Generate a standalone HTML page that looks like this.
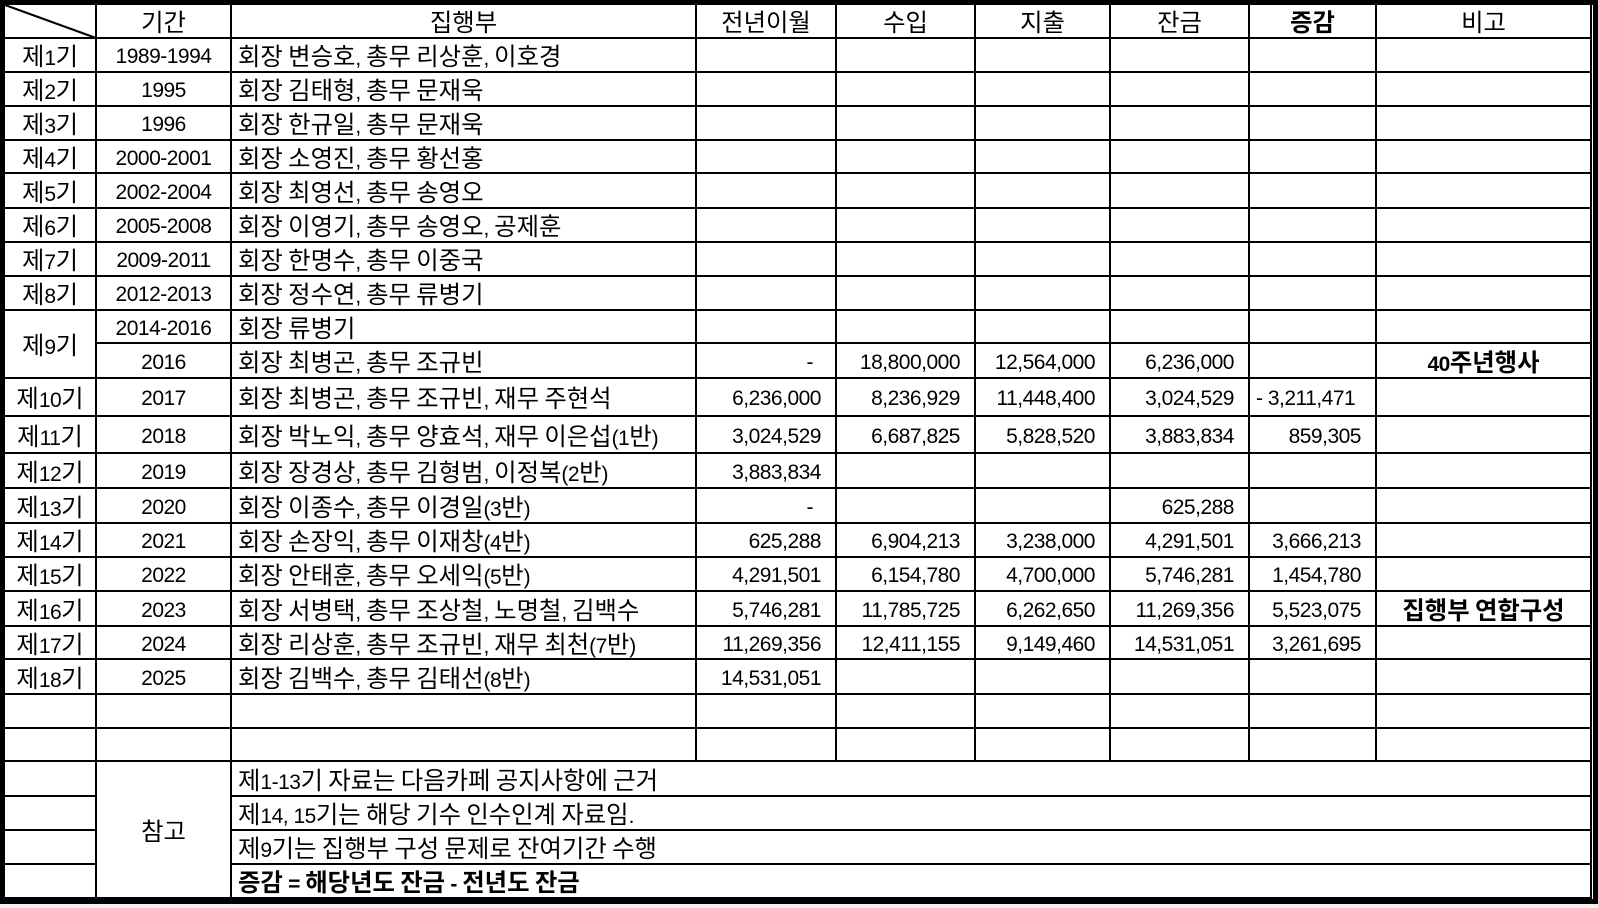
<!DOCTYPE html>
<html><head><meta charset="utf-8">
<style>
html,body{margin:0;padding:0;background:#fff;}
body{width:1598px;height:908px;position:relative;overflow:hidden;font-family:"Liberation Sans","Noto Sans CJK KR",sans-serif;}
.c{position:absolute;box-sizing:border-box;border-right:2px solid #000;border-bottom:2px solid #000;font-size:21px;letter-spacing:-0.5px;color:#000;display:flex;align-items:center;white-space:pre;overflow:hidden;padding-top:3px;}
.c span.t{display:inline-block;line-height:1;}
.k{font-size:1.16em;letter-spacing:0;font-family:"Noto Sans CJK KR",sans-serif;}
.l{justify-content:flex-start;padding-left:6px;}
.m{justify-content:center;}
.r{justify-content:flex-end;padding-right:14px;}
.b{font-weight:bold;}
#frame{position:absolute;left:0;top:0;width:1598px;height:904px;box-sizing:border-box;border:5px solid #000;pointer-events:none;}
#below{position:absolute;left:0;top:904px;width:1598px;height:4px;background:#f2f2f2;}
</style></head>
<body>
<div id="below"></div>
<div id="grid"></div>
<div id="frame"></div>
<svg style="position:absolute;left:0;top:0" width="100" height="42"><line x1="5" y1="5" x2="96" y2="38" stroke="#000" stroke-width="2"/></svg>
<script>
const xs=[5,97,232,697,837,976,1111,1250,1377,1592];
const ys=[5,39,73,107,141,174,209,243,277,311,344,379,417,454,489,524,558,592,627,660,695,729,762,797,831,865,899];
const header=["","기간","집행부","전년이월","수입","지출","잔금","증감","비고"];
const terms=["제1기","제2기","제3기","제4기","제5기","제6기","제7기","제8기","제9기","","제10기","제11기","제12기","제13기","제14기","제15기","제16기","제17기","제18기"];
const periods=["1989-1994","1995","1996","2000-2001","2002-2004","2005-2008","2009-2011","2012-2013","2014-2016","2016","2017","2018","2019","2020","2021","2022","2023","2024","2025"];
const boards=["회장 변승호, 총무 리상훈, 이호경","회장 김태형, 총무 문재욱","회장 한규일, 총무 문재욱","회장 소영진, 총무 황선홍","회장 최영선, 총무 송영오","회장 이영기, 총무 송영오, 공제훈","회장 한명수, 총무 이중국","회장 정수연, 총무 류병기","회장 류병기","회장 최병곤, 총무 조규빈","회장 최병곤, 총무 조규빈, 재무 주현석","회장 박노익, 총무 양효석, 재무 이은섭(1반)","회장 장경상, 총무 김형범, 이정복(2반)","회장 이종수, 총무 이경일(3반)","회장 손장익, 총무 이재창(4반)","회장 안태훈, 총무 오세익(5반)","회장 서병택, 총무 조상철, 노명철, 김백수","회장 리상훈, 총무 조규빈, 재무 최천(7반)","회장 김백수, 총무 김태선(8반)"];
const carried=["","","","","","","","","","-","6,236,000","3,024,529","3,883,834","-","625,288","4,291,501","5,746,281","11,269,356","14,531,051"];
const income=["","","","","","","","","","18,800,000","8,236,929","6,687,825","","","6,904,213","6,154,780","11,785,725","12,411,155",""];
const spend=["","","","","","","","","","12,564,000","11,448,400","5,828,520","","","3,238,000","4,700,000","6,262,650","9,149,460",""];
const balance=["","","","","","","","","","6,236,000","3,024,529","3,883,834","","625,288","4,291,501","5,746,281","11,269,356","14,531,051",""];
const change=["","","","","","","","","","","- 3,211,471","859,305","","","3,666,213","1,454,780","5,523,075","3,261,695",""];
const notes=["","","","","","","","","","40주년행사","","","","","","","집행부 연합구성","",""];
const refs=["제1-13기 자료는 다음카페 공지사항에 근거","제14, 15기는 해당 기수 인수인계 자료임.","제9기는 집행부 구성 문제로 잔여기간 수행","증감 = 해당년도 잔금 - 전년도 잔금"];
const grid=document.getElementById('grid');
function esc(s){return s.replace(/&/g,'&amp;').replace(/</g,'&lt;');}
function cell(r0,r1,c0,c1,txt,cls,name,inter){
  const d=document.createElement('div');
  d.className='c '+cls;
  d.style.left=xs[c0]+'px';d.style.top=ys[r0]+'px';
  d.style.width=(xs[c1]-xs[c0])+'px';d.style.height=(ys[r1]-ys[r0])+'px';
  if(txt) d.innerHTML='<span class="t">'+esc(txt).replace(/([가-힣]+)/g,'<span class="k">$1</span>')+'</span>';
  
  
  grid.appendChild(d);return d;
}
header.forEach((h,i)=>{
  cell(0,1,i,i+1,h,'m'+(i===7?' b':''),'header-'+(i===0?'corner':i),false);
});
const numCols=[carried,income,spend,balance];
for(let i=0;i<terms.length;i++){
  const r=i+1;
  if(i===8) cell(r,r+2,0,1,terms[i],'m','term-cell',true);
  else if(i!==9) cell(r,r+1,0,1,terms[i],'m','term-cell',true);
  cell(r,r+1,1,2,periods[i],'m','period-cell',true);
  cell(r,r+1,2,3,boards[i],'l','board-cell',true);
  numCols.forEach((arr,k)=>{
    const v=arr[i];
    const c=cell(r,r+1,3+k,4+k,v,'r','amount-cell',true);
    if(v==='-') c.style.paddingRight='22px';
  });
  const ch=change[i];
  cell(r,r+1,7,8,ch,ch.startsWith('-')?'l':'r','change-cell',true);
  cell(r,r+1,8,9,notes[i],'m b','note-cell',true);
}
for(let r=20;r<22;r++){
  for(let c=0;c<9;c++) cell(r,r+1,c,c+1,'','m','empty-cell',true);
}
for(let k=0;k<4;k++){
  const r=22+k;
  cell(r,r+1,0,1,'','m','ref-blank-cell',false);
  cell(r,r+1,2,9,refs[k],'l'+(k===3?' b':''),'reference-note',false);
}
cell(22,26,1,2,'참고','m','reference-label',false);
</script>
</body></html>
